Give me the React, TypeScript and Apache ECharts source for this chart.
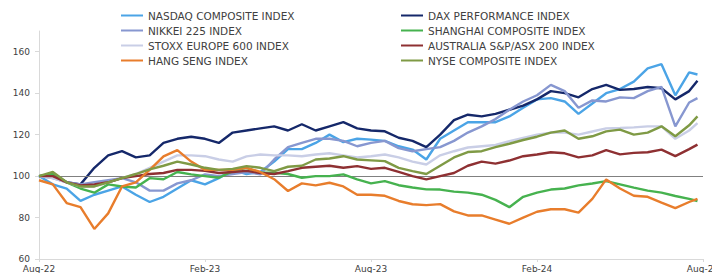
import React, { useEffect, useRef } from "react";
import * as echarts from "echarts";

// months since Aug-22
const months = [
  0, 0.5, 1, 1.5, 2, 2.5, 3, 3.5, 4, 4.5, 5, 5.5, 6, 6.5, 7, 7.5, 8, 8.5, 9, 9.5,
  10, 10.5, 11, 11.5, 12, 12.5, 13, 13.5, 14, 14.5, 15, 15.5, 16, 16.5, 17, 17.5,
  18, 18.5, 19, 19.5, 20, 20.5, 21, 21.5, 22, 22.5, 23, 23.5, 23.8,
];

const xTickLabels = ["Aug-22", "Feb-23", "Aug-23", "Feb-24", "Aug-24"];

const nasdaq = [
  100, 96, 94, 88, 91, 93, 95, 91, 87.5, 90, 94, 98, 96, 99, 103, 101, 102, 107, 113, 113,
  116, 120, 116.4, 118, 117.6, 117, 114.4, 112.8, 108, 118, 122, 126, 126, 126, 128.8, 133,
  137, 137.6, 136, 130, 135, 140, 142, 145.6, 152, 154, 139, 150, 149,
];
const dax = [
  100, 101, 97, 96, 104, 110, 112, 109, 110, 116, 118, 119, 118, 116, 121, 122, 123, 124, 122, 125,
  122, 124, 126, 123, 122, 121.6, 118.5, 117, 114, 120, 127, 129.6, 128.8, 130, 132, 134,
  137, 141, 140, 138, 142, 144, 141.6, 142, 143, 142.4, 137, 141, 146,
];
const nikkei = [
  100, 99, 97, 96, 97, 98, 99, 97, 93, 93, 96.5, 98, 100.8, 100, 101, 102, 100.8, 108, 114, 116,
  118, 118, 117, 114.4, 116, 117, 113.5, 112, 113, 114, 117, 121, 124, 127.5, 132, 136,
  139, 144, 141, 133, 136.5, 136, 138, 137.6, 141, 143, 124, 135.5, 137.6,
];
const shanghai = [
  100, 101, 97, 94, 92, 96, 95, 94.5, 99, 98.5, 102, 100.8, 100, 99.2, 102.4, 104, 101.6, 101.6, 101, 99.2,
  100, 100, 100.8, 98.4, 96.5, 97.6, 95.6, 94.5, 93.6, 93.5, 92.5, 92, 91, 88.5, 85, 90,
  92, 93.5, 94, 95.5, 96.4, 97.6, 96, 94.4, 93, 92, 90.4, 89, 88,
];
const stoxx = [
  100, 99, 97, 95, 95, 97, 99, 101, 104, 107, 110, 110, 109.6, 108, 107, 109.5, 110.4, 110, 110, 109.6,
  110.4, 111, 110, 109, 109.6, 110.4, 109, 107, 105.6, 110, 112, 113.8, 114.4, 115, 116.8, 118.4,
  120, 121, 121, 120, 121.5, 123, 123.2, 123.5, 124, 124, 118, 122, 125.6,
];
const australia = [
  100, 100, 97, 95.5, 96, 97, 99, 100, 101, 101.5, 103, 103, 102.5, 101.5, 102, 102.5, 101.5, 101, 102.4, 104,
  104.5, 105, 104, 104.8, 103.5, 104, 102, 100, 98.4, 100, 101.5, 105, 107, 106, 107.5, 109.6,
  110.4, 111.5, 111, 109, 110, 112.5, 110.5, 111.2, 111.5, 112.8, 109.6, 113, 115.2,
];
const hangSeng = [
  98, 96, 87, 85, 74.5, 82, 95, 97, 103, 109.5, 112.5, 107, 103, 103, 103, 104, 102, 98.5, 92.8, 96.5,
  95.5, 96.8, 95, 91, 91, 90.5, 88, 86.4, 86, 86.5, 83, 81, 81, 79, 77, 80,
  82.8, 84, 84, 82.4, 89, 98.4, 94, 90.5, 90, 87.2, 84.5, 87.5, 89,
];
const nyse = [
  100, 102, 97, 95, 95, 97, 99, 101, 103.2, 105, 107, 105.6, 104, 103, 103.5, 104.8, 104, 102.4, 104.5, 105,
  108, 108.5, 109.6, 108, 107.6, 107.2, 104, 102.4, 101, 105, 109, 111.6, 112, 114, 115.6, 117.4,
  119, 121, 122, 118, 119.2, 121.6, 122.4, 120, 121, 124, 119.2, 124.5, 128.8,
];

const seriesNames = [
  "NASDAQ COMPOSITE INDEX",
  "DAX PERFORMANCE INDEX",
  "NIKKEI 225 INDEX",
  "SHANGHAI COMPOSITE INDEX",
  "STOXX EUROPE 600 INDEX",
  "AUSTRALIA S&P/ASX 200 INDEX",
  "HANG SENG INDEX",
  "NYSE COMPOSITE INDEX",
];
const seriesValues = [nasdaq, dax, nikkei, shanghai, stoxx, australia, hangSeng, nyse];
const seriesColors = [
  "#4ba4e6",
  "#15286a",
  "#8797d0",
  "#46b24f",
  "#c9cee6",
  "#8e3032",
  "#e87d2c",
  "#7f9a45",
];

export default function App() {
  const ref = useRef<HTMLDivElement>(null);
  useEffect(() => {
    if (!ref.current) return;
    const chart = echarts.init(ref.current, null, { renderer: "svg" });
    const font = "DejaVu Sans, Verdana, sans-serif";
    const series: any[] = seriesNames.map((name, i) => ({
      name,
      type: "line",
      symbol: "none",
      data: months.map((m, j) => [m, seriesValues[i][j]]),
      lineStyle: { width: 2.4, color: seriesColors[i] },
      itemStyle: { color: seriesColors[i] },
      z: 2 + i,
    }));
    series[0].markLine = {
      silent: true,
      symbol: "none",
      label: { show: false },
      lineStyle: { color: "#808080", width: 1, type: "solid" },
      data: [{ yAxis: 100 }],
    };
    const legendCommon = {
      orient: "vertical",
      top: 8,
      padding: 0,
      itemGap: 0,
      itemWidth: 22,
      itemHeight: 2,
      icon: "rect",
      selectedMode: false,
      textStyle: { fontFamily: font, fontSize: 10.5, color: "#404040", lineHeight: 15 },
    };
    chart.setOption({
      animation: false,
      backgroundColor: "#ffffff",
      grid: { left: 39, right: 9, top: 31, bottom: 14, containLabel: false, outerBoundsMode: "none" },
      legend: [
        { ...legendCommon, left: 121, data: [seriesNames[0], seriesNames[2], seriesNames[4], seriesNames[6]] },
        { ...legendCommon, left: 401, data: [seriesNames[1], seriesNames[3], seriesNames[5], seriesNames[7]] },
      ],
      xAxis: {
        type: "value",
        min: 0,
        max: 24,
        interval: 6,
        axisLine: { show: true, lineStyle: { color: "#d9d9d9" } },
        axisTick: { show: true, length: 3, lineStyle: { color: "#d9d9d9" } },
        splitLine: { show: false },
        axisLabel: {
          margin: 5,
          fontFamily: font,
          fontSize: 9,
          color: "#404040",
          showMinLabel: true,
          showMaxLabel: true,
          hideOverlap: false,
          formatter: (v: number) => xTickLabels[Math.round(v / 6)] ?? "",
        },
      },
      yAxis: {
        type: "value",
        min: 60,
        max: 170,
        interval: 20,
        axisLine: { show: true, lineStyle: { color: "#d9d9d9" } },
        axisTick: { show: true, length: 4, lineStyle: { color: "#d9d9d9" } },
        splitLine: { show: false },
        axisLabel: {
          margin: 9,
          fontFamily: font,
          fontSize: 9,
          color: "#404040",
          showMaxLabel: false,
          formatter: (v: number) => (v % 20 === 0 ? String(v) : ""),
        },
      },
      series,
    });
    return () => chart.dispose();
  }, []);
  return (
    <div
      ref={ref}
      style={{ position: "fixed", left: 0, top: 0, width: 712, height: 273, background: "#fff" }}
    />
  );
}
